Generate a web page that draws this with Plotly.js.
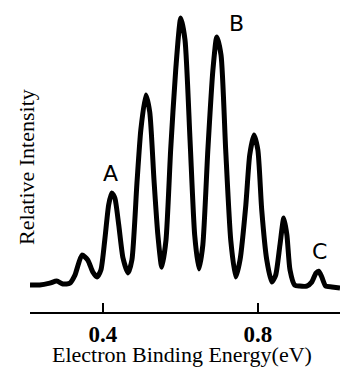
<!DOCTYPE html>
<html>
<head>
<meta charset="utf-8">
<script src="https://cdn.plot.ly/plotly-3.0.1.min.js"></script>
<style>html,body{margin:0;padding:0;background:#fff;}#chart{width:341px;height:367px;}</style>
</head>
<body>
<div id="chart"></div>
<script>
// Electron binding energy (eV)
var energy = [0.212,0.237,0.263,0.281,0.297,0.315,0.328,0.346,0.361,0.374,0.385,0.395,0.405,0.415,0.423,0.431,0.441,0.452,0.465,0.475,0.488,0.498,0.511,0.521,0.532,0.542,0.552,0.563,0.575,0.588,0.601,0.612,0.625,0.637,0.648,0.658,0.671,0.684,0.694,0.705,0.717,0.730,0.743,0.754,0.769,0.779,0.790,0.800,0.810,0.823,0.836,0.846,0.857,0.867,0.875,0.883,0.895,0.908,0.926,0.939,0.950,0.957,0.965,0.975,0.991,1.012];
// Relative intensity (normalised)
var intensity = [0,0,0.007,0.015,0.004,0.007,0.037,0.112,0.094,0.049,0.030,0.056,0.169,0.300,0.345,0.326,0.225,0.101,0.045,0.094,0.382,0.581,0.712,0.648,0.393,0.187,0.067,0.169,0.506,0.805,1.000,0.918,0.543,0.187,0.060,0.150,0.506,0.805,0.929,0.861,0.506,0.169,0.030,0.094,0.300,0.487,0.562,0.506,0.281,0.094,0.011,0.037,0.150,0.251,0.187,0.056,0,-0.004,-0.004,0.011,0.045,0.052,0.030,-0.004,-0.007,-0.011];
var tickVals = [0.4, 0.8];
var tickText = ["0.4", "0.8"];
var peakLabels = ["A", "B", "C"];
var peakLabelX = [0.421, 0.746, 0.960];
var peakLabelY = [0.419, 0.978, 0.127];

var trace = {
  x: energy, y: intensity, type: 'scatter', mode: 'lines',
  line: {color: '#000', width: 5, shape: 'spline', smoothing: 0.6},
  hoverinfo: 'none'
};

var annotations = peakLabels.map(function(t, i){
  return {text: t, x: peakLabelX[i], y: peakLabelY[i], xref: 'x', yref: 'y',
    showarrow: false, xanchor: 'center', yanchor: 'middle',
    font: {family: 'DejaVu Sans', size: 22, color: '#000'}};
});
annotations.push({text: 'Relative Intensity', xref: 'paper', yref: 'paper',
  x: -0.013, y: 0.48, textangle: -90, showarrow: false, xanchor: 'center', yanchor: 'middle',
  font: {family: 'Liberation Serif', size: 22, color: '#000'}});
annotations.push({text: 'Electron Binding Energy(eV)', xref: 'paper', yref: 'paper',
  x: 0.49, y: -0.142, showarrow: false, xanchor: 'center', yanchor: 'middle',
  font: {family: 'Liberation Serif', size: 22, color: '#000'}});

var layout = {
  width: 341, height: 367,
  margin: {l: 30, r: 1, t: 10, b: 55},
  paper_bgcolor: '#fff', plot_bgcolor: '#fff',
  showlegend: false,
  xaxis: {range: [0.212, 1.012], tickvals: tickVals, ticktext: tickText,
    ticks: 'inside', ticklen: 9, tickwidth: 2, tickcolor: '#000',
    showline: true, linecolor: '#000', linewidth: 2, showgrid: false, zeroline: false,
    tickfont: {family: 'Liberation Serif', size: 23, color: '#000', weight: 700}},
  yaxis: {range: [-0.101, 1.030], visible: false, showgrid: false, zeroline: false},
  annotations: annotations
};
Plotly.newPlot('chart', [trace], layout, {staticPlot: true, displayModeBar: false});
</script>
</body>
</html>
